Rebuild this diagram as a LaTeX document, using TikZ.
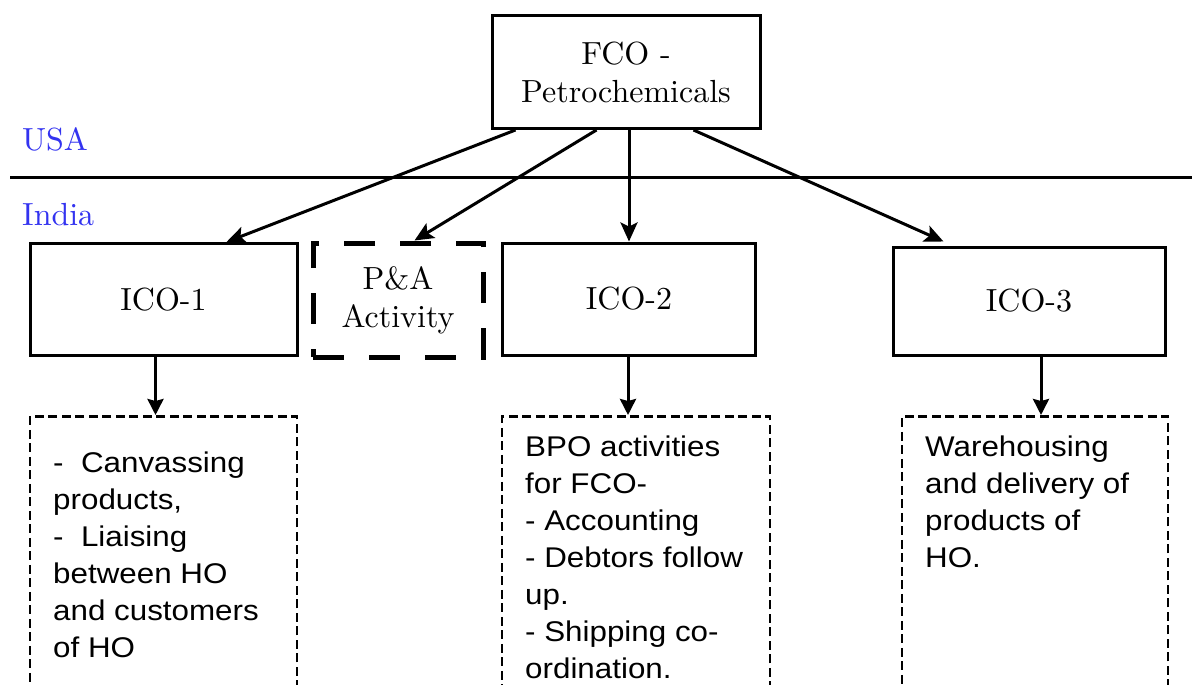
\documentclass[tikz,border=0pt]{standalone}
\usepackage{fontspec}
\newfontfamily\sansf[FakeStretch=1.1]{Liberation Sans}
\newfontfamily\serf[Extension=.otf]{lmroman10-regular}
\usetikzlibrary{arrows.meta,calc}
\definecolor{lblblue}{RGB}{51,51,240}
\begin{document}
\begin{tikzpicture}[x=1pt,y=-1pt,
  box/.style={draw,line width=3pt,inner sep=0pt,align=center,
    font=\serf\fontsize{32}{38}\selectfont},
  pabox/.style={draw,line width=5pt,dash pattern=on 31pt off 25pt,inner sep=0pt,
    align=center,font=\serf\fontsize{32}{38}\selectfont},
  dbox/.style={draw,line width=2.6pt,dash pattern=on 9pt off 4.5pt,anchor=north,
    minimum height=330pt,inner sep=0pt},
  desc/.style={anchor=north west,inner sep=0pt,align=left,
    font=\sansf\fontsize{28.5}{37}\selectfont},
  region/.style={anchor=west,inner sep=0pt,text=lblblue,font=\serf\fontsize{32}{38}\selectfont},
  conn/.style={line width=3pt,-{Stealth[length=19pt,width=17pt,inset=4pt]}},
  down/.style={line width=3pt,-{Stealth[length=16pt,width=16pt,inset=2pt]}}
]
\useasboundingbox (0,0) rectangle (1192,685);
\clip (0,0) rectangle (1192,685);

% region labels and border line
\node[region] (usa) at (22,139) {USA};
\node[region] (india) at (22,215) {India};
\draw[line width=3pt] (10,177) -- (1192,177);

% main boxes
\node[box,minimum width=268pt,minimum height=113pt] (fco) at (626,72) {FCO -\\Petrochemicals};
\node[box,minimum width=267pt,minimum height=112pt] (ico1) at (163.5,299.5) {ICO-1};
\node[pabox,minimum width=170pt,minimum height=114pt] (pa) at (398,300) {P\&A\\Activity};
\node[box,minimum width=253pt,minimum height=112pt] (ico2) at (629,299) {ICO-2};
\node[box,minimum width=272pt,minimum height=108pt] (ico3) at (1029,301) {ICO-3};

% dashed description boxes
\node[dbox,minimum width=267pt] (d1) at (163.5,415) {};
\node[dbox,minimum width=268pt] (d2) at (636,415) {};
\node[dbox,minimum width=266pt] (d3) at (1035,415) {};

\node[desc] (t1) at (53,452) {-\ \ Canvassing\\products,\\-\ \ Liaising\\between HO\\and customers\\of HO};
\node[desc] (t2) at (525,436) {BPO activities\\for FCO-\\- Accounting\\- Debtors follow\\up.\\- Shipping co-\\ordination.};
\node[desc] (t3) at (925,436) {Warehousing\\and delivery of\\products of\\HO.};

% connectors from FCO
\draw[conn] ($(fco.south west)+(25,0)$) -- ($(ico1.north west)+(198,0)$);
\draw[conn] ($(fco.south west)+(106,0)$) -- ($(pa.north west)+(104,0)$);
\draw[conn] (ico2.north |- fco.south) -- (ico2.north);
\draw[conn] ($(fco.south west)+(203,0)$) -- ($(ico3.north west)+(52,-4)$);

% connectors down
\coordinate (c1) at ($(ico1.south)+(-8,0)$);
\coordinate (c2) at ($(ico2.south)+(-1,0)$);
\coordinate (c3) at ($(ico3.south)+(12,0)$);
\draw[down] (c1) -- (c1 |- d1.north);
\draw[down] (c2) -- (c2 |- d2.north);
\draw[down] (c3) -- (c3 |- d3.north);
\end{tikzpicture}
\end{document}
